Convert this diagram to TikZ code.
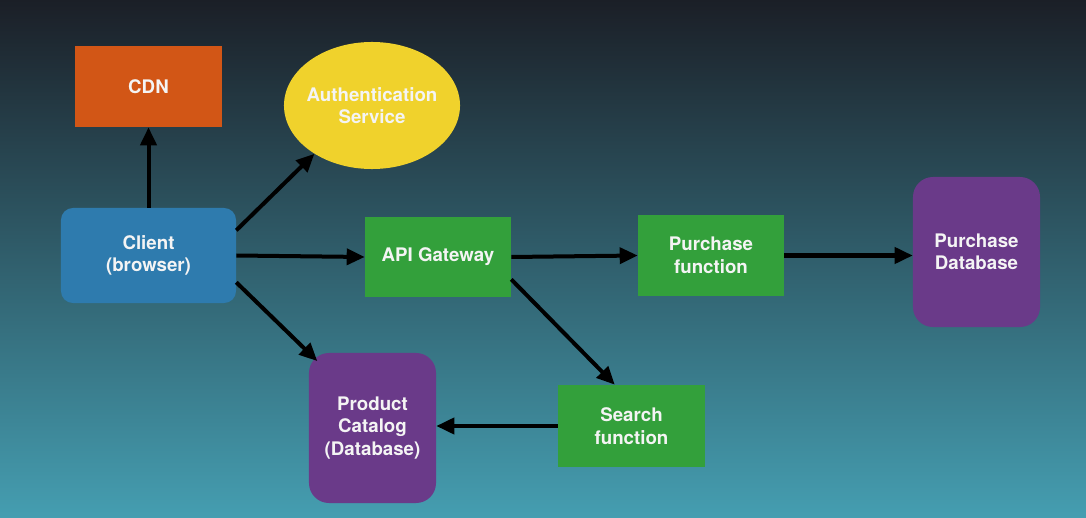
\documentclass[tikz,border=0pt]{standalone}
\usepackage{xcolor}
\usepackage{fontspec}
\setmainfont{TeX Gyre Heros}
\usepackage{tikz}
\usetikzlibrary{arrows.meta,shapes.geometric}

\definecolor{bgtop}{HTML}{1B1F27}
\definecolor{bgmid}{HTML}{2E5865}
\definecolor{bgbot}{HTML}{459EB1}
\definecolor{cdnorange}{HTML}{D25616}
\definecolor{authyellow}{HTML}{F0D22C}
\definecolor{clientblue}{HTML}{2E7BAE}
\definecolor{fngreen}{HTML}{33A03B}
\definecolor{dbpurple}{HTML}{6A3A89}
\definecolor{labelwhite}{HTML}{F4F4F4}

\begin{document}
\begin{tikzpicture}[x=0.025cm, y=-0.025cm,
	box/.style={inner sep=0pt, align=center, text=labelwhite,
		font=\fontsize{13.3}{16}\selectfont\bfseries},
	fnbox/.style={box, fill=fngreen, minimum width=3.65cm, minimum height=2.025cm},
	dbbox/.style={box, fill=dbpurple, rounded corners=0.5cm,
		minimum width=3.175cm, minimum height=3.75cm},
	flow/.style={-{Triangle[length=0.45cm, width=0.4cm]}, line width=0.1cm, draw=black}]
	\fill[top color=bgtop, middle color=bgmid, bottom color=bgbot] (0,0) rectangle (1086,518);
	\useasboundingbox (0,0) rectangle (1086,518);

	\node[box, fill=cdnorange, minimum width=3.675cm, minimum height=2.025cm] (cdn) at (148.5, 86.5) {CDN};
	\node[box, ellipse, inner xsep=-0.2cm, fill=authyellow, minimum width=4.4cm, minimum height=3.175cm] (auth) at (372, 105.5) {Authentication\\Service};
	\node[box, fill=clientblue, rounded corners=0.3cm, minimum width=4.375cm, minimum height=2.375cm] (client) at (148.5, 255.5) {Client\\(browser)};
	\node[fnbox, minimum height=2cm] (api) at (438, 257) {API Gateway};
	\node[fnbox] (purchase) at (711, 255.5) {Purchase\\function};
	\node[fnbox, minimum width=3.675cm, minimum height=2.05cm] (search) at (631.5, 426) {Search\\function};
	\node[dbbox] (purchasedb) at (976.5, 252) {Purchase\\Database};
	\node[dbbox] (catalog) at (372.5, 428) {Product\\Catalog\\(Database)};

	\draw[flow] (client.north) -- (cdn.south);
	\draw[flow] (client.16.5) -- (auth.220);
	\draw[flow] (client.east) -- (api.west);
	\draw[flow, shorten >=-0.3cm] (client.-17.5) -- (catalog.north west);
	\draw[flow] (api.east) -- (purchase.west);
	\draw[flow] (purchase.east) -- (purchase.east -| purchasedb.west);
	\draw[flow] (api.-17.5) -- (search.112);
	\draw[flow] (search.west) -- (search.west -| catalog.east);
\end{tikzpicture}
\end{document}
